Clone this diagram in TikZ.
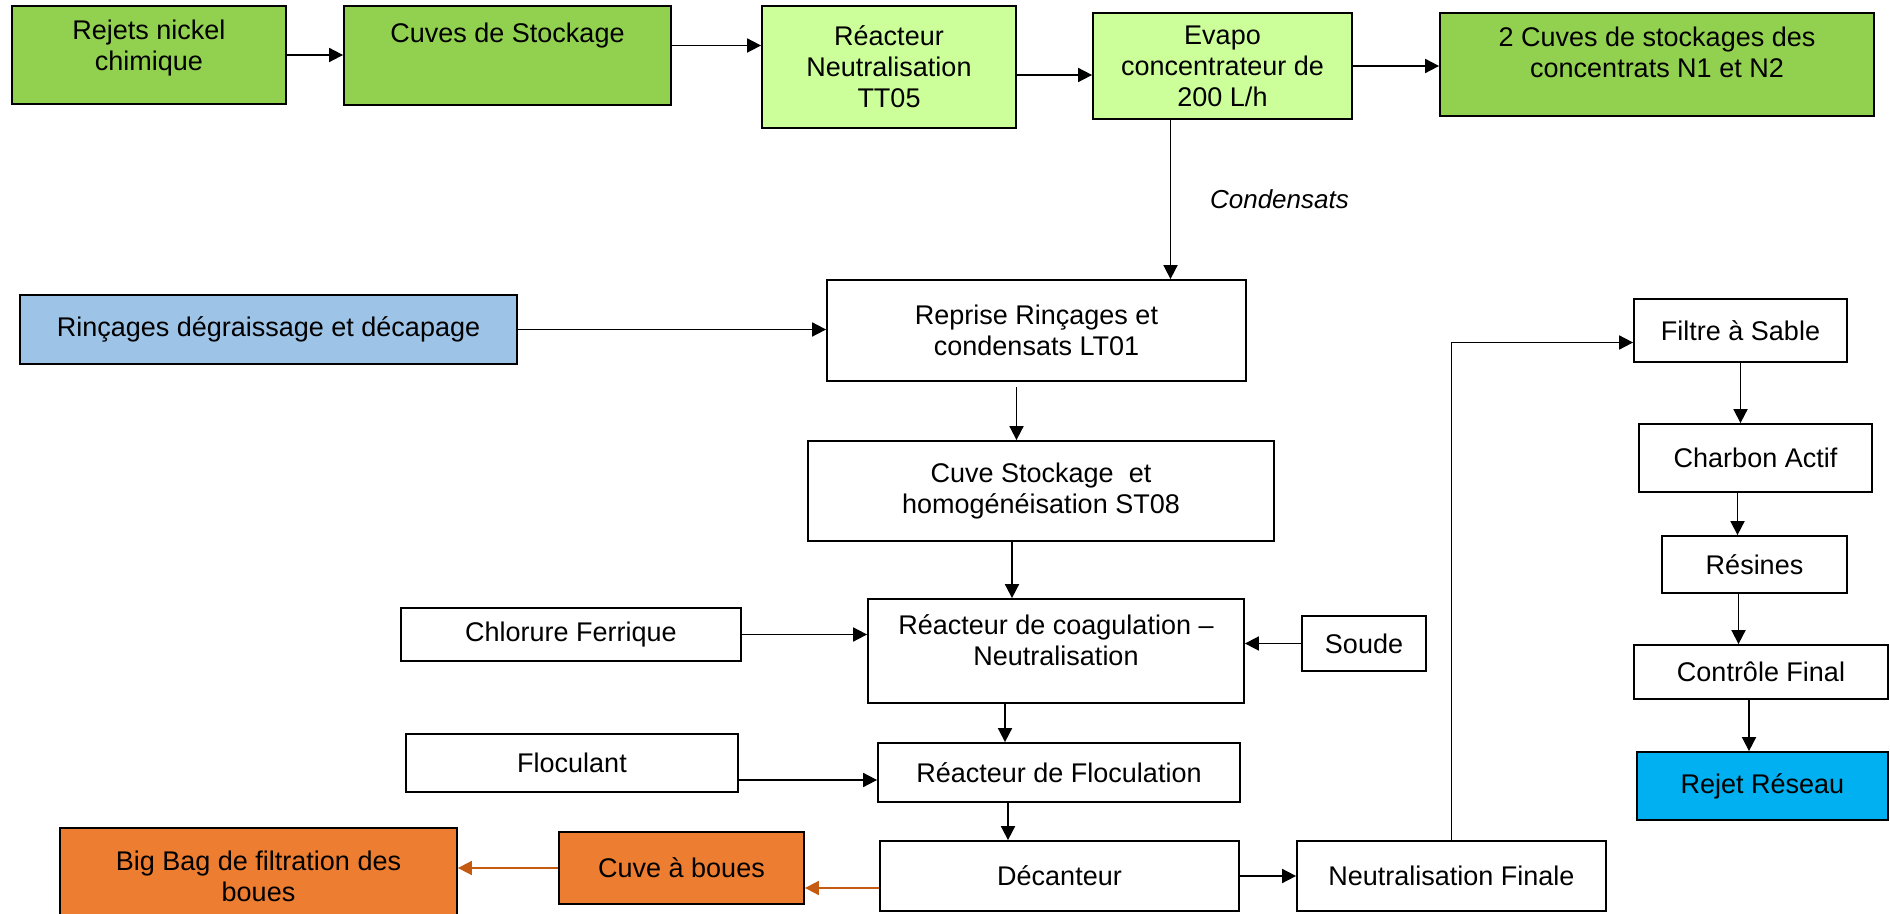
\documentclass[tikz,border=0pt]{standalone}
\usepackage{fontspec}
\setmainfont{Liberation Sans}
\usepackage{xcolor}
\usetikzlibrary{arrows.meta,positioning}
\definecolor{vertfonce}{HTML}{92D050}
\definecolor{vertclair}{HTML}{CCFF99}
\definecolor{bleurinc}{HTML}{9DC3E6}
\definecolor{bleurejet}{HTML}{00B0F0}
\definecolor{orangeboue}{HTML}{ED7D31}
\definecolor{orangefl}{HTML}{C55A11}

\begin{document}
\begin{tikzpicture}[x=.5pt,y=-.5pt,>={Triangle[length=7pt,width=7pt]},
  bloc/.style={draw,line width=.9pt,align=center,inner sep=2pt,font=\fontsize{13.5}{15.5}\selectfont},
  fl/.style={->,line width=.9pt},
  flo/.style={->,line width=.9pt,orangefl}]
\useasboundingbox (0,0) rectangle (1890,914);
% ligne des concentrats
\node[bloc,fill=vertfonce,minimum width=137pt,minimum height=49pt] (rejets) at (149,55) {Rejets nickel\\chimique\\[-6pt]~};
\node[bloc,fill=vertfonce,minimum width=163.5pt,minimum height=49.5pt] (cuves) at (507.5,55.5) {Cuves de Stockage\\[7pt]~};
\node[bloc,fill=vertclair,minimum width=127pt,minimum height=61pt] (tt05) at (889,67) {Réacteur\\Neutralisation\\TT05};
\node[bloc,fill=vertclair,minimum width=129.5pt,minimum height=53pt] (evapo) at (1222.5,66) {Evapo\\concentrateur de\\200 L/h};
\node[bloc,fill=vertfonce,minimum width=217pt,minimum height=51.5pt] (concentrats) at (1657,64.5) {2 Cuves de stockages des\\concentrats N1 et N2\\[-3.5pt]~};
% traitement physico-chimique
\node[bloc,fill=bleurinc,minimum width=248.5pt,minimum height=34.5pt] (rincages) at (268.5,329.5) {Rinçages dégraissage et décapage};
\node[bloc,minimum width=209.5pt,minimum height=50.5pt] (reprise) at (1036.5,330.5) {Reprise Rinçages et\\condensats LT01};
\node[bloc,minimum width=233pt,minimum height=50pt] (st08) at (1041,491) {Cuve Stockage\ \ et\\homogénéisation ST08};
\node[bloc,minimum width=188pt,minimum height=52pt] (coag) at (1056,651) {Réacteur de coagulation –\\Neutralisation\\[-5pt]~};
\node[bloc,minimum width=170pt,minimum height=26.5pt] (chlorure) at (571,634.5) {Chlorure Ferrique};
\node[bloc,minimum width=62pt,minimum height=27.5pt] (soude) at (1364,643.5) {Soude};
\node[bloc,minimum width=166pt,minimum height=29pt] (floculant) at (572,763) {Floculant};
\node[bloc,minimum width=181pt,minimum height=29.5pt] (floc) at (1059,772.5) {Réacteur de Floculation};
\node[bloc,minimum width=179.5pt,minimum height=35pt] (decanteur) at (1059.5,876) {Décanteur};
\node[bloc,minimum width=154.5pt,minimum height=35pt] (neutfin) at (1451.5,876) {Neutralisation Finale};
\node[bloc,fill=orangeboue,minimum width=122.5pt,minimum height=36pt] (cuveboues) at (681.5,868) {Cuve à boues};
\node[bloc,fill=orangeboue,minimum width=198.5pt,minimum height=48pt] (bigbag) at (258.5,876) {Big Bag de filtration des\\boues};
% finition
\node[bloc,minimum width=106.5pt,minimum height=31.5pt] (sable) at (1740.5,330.5) {Filtre à Sable};
\node[bloc,minimum width=116.5pt,minimum height=34pt] (charbon) at (1755.5,458) {Charbon Actif};
\node[bloc,minimum width=92.5pt,minimum height=28.5pt] (resines) at (1754.5,564.5) {Résines};
\node[bloc,minimum width=127pt,minimum height=27pt] (controle) at (1761,672) {Contrôle Final};
\node[bloc,fill=bleurejet,minimum width=125.5pt,minimum height=34pt] (rejet) at (1762.5,786) {Rejet Réseau};

\draw[fl] (rejets.east)--(rejets.east -| cuves.west);
\draw[fl] ([yshift=5pt]cuves.east)--([yshift=5pt]cuves.east -| tt05.west);
\draw[fl] ([yshift=-4pt]tt05.east)--([yshift=-4pt]tt05.east -| evapo.west);
\draw[fl] (evapo.east)--(evapo.east -| concentrats.west);
\draw[fl] ([xshift=-26pt]evapo.south)--node[right=16pt,font=\fontsize{13}{16}\selectfont\itshape] {Condensats}([xshift=-26pt]evapo.south |- reprise.north);
\draw[fl] (rincages.east)--(rincages.east -| reprise.west);
\draw[fl] ([xshift=-10pt,yshift=-2.5pt]reprise.south)--([xshift=-10pt]reprise.south |- st08.north);
\draw[fl] ([xshift=-14.5pt]st08.south)--([xshift=-14.5pt]st08.south |- coag.north);
\draw[fl] (chlorure.east)--(chlorure.east -| coag.west);
\draw[fl] (soude.west)--(soude.west -| coag.east);
\draw[fl] ([xshift=-25.5pt]coag.south)--([xshift=-25.5pt]coag.south |- floc.north);
\draw[fl] ([yshift=-8.5pt]floculant.east)--([yshift=-8.5pt]floculant.east -| floc.west);
\draw[fl] ([xshift=-25.5pt]floc.south)--([xshift=-25.5pt]floc.south |- decanteur.north);
\draw[fl] (decanteur.east)--(neutfin.west);
\draw[fl] (neutfin.north) |- ([yshift=-6pt]sable.west);
\draw[fl] (sable.south)--(sable.south |- charbon.north);
\draw[fl] ([xshift=-9pt]charbon.south)--([xshift=-9pt]charbon.south |- resines.north);
\draw[fl] ([xshift=-8pt]resines.south)--([xshift=-8pt]resines.south |- controle.north);
\draw[fl] ([xshift=-6pt]controle.south)--([xshift=-6pt]controle.south |- rejet.north);
\draw[flo] ([yshift=-6pt]decanteur.west)--([yshift=-6pt]decanteur.west -| cuveboues.east);
\draw[flo] (cuveboues.west)--(cuveboues.west -| bigbag.east);
\end{tikzpicture}
\end{document}
